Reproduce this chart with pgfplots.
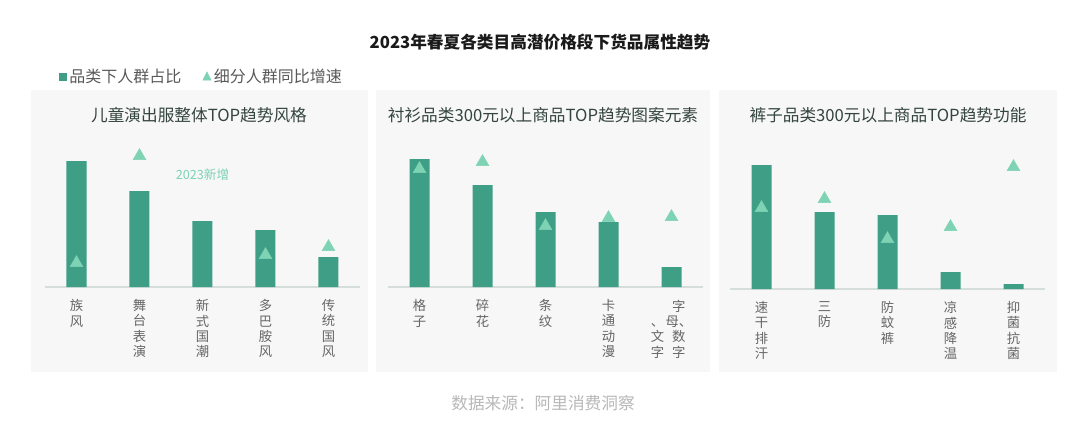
\documentclass[border=0pt]{standalone}
\usepackage{fontspec}
\setmainfont{Noto Sans CJK SC}
\usepackage{pgfplots}
\pgfplotsset{compat=1.18}
\definecolor{barc}{HTML}{3F9E86}
\definecolor{tric}{HTML}{7DD3B4}
\definecolor{axc}{HTML}{D5DEDB}
\definecolor{panelbg}{HTML}{F7F7F7}
\definecolor{titlec}{HTML}{1A1A1A}
\definecolor{ptitlec}{HTML}{34443F}
\definecolor{tickc}{HTML}{666666}
\definecolor{srcc}{HTML}{B8B8B8}
\definecolor{legc}{HTML}{595959}
\newcommand{\zmlabel}{\setlength{\tabcolsep}{0pt}\begin{tabular}[t]{@{}c@{\hspace{1pt}}c@{}} & 字\\ 、& 母、\\ 文& 数\\ 字& 字\end{tabular}}
\pgfplotsset{panel/.style={scale only axis, width=236.25pt, height=105pt,
  xmin=-0.5, xmax=4.5, ymin=0, ymax=140,
  axis y line=none, axis x line=bottom,
  x axis line style={draw=axc, line width=0.9pt, -},
  xtick={0,1,2,3,4}, major tick length=0pt,
  xticklabel style={anchor=north, align=center, font=\fontsize{10}{11.3}\selectfont, text=tickc, yshift=-6pt},
  clip=false}}
\begin{document}
\begin{tikzpicture}
\begin{scope}[x=0.75pt,y=-0.75pt]
\useasboundingbox (0,0) rectangle (1080,440);
\fill[white] (0,0) rectangle (1080,440);
\fill[panelbg] (31,90) rectangle (368,372);
\fill[panelbg] (376,90) rectangle (710,372);
\fill[panelbg] (719,90) rectangle (1057,372);
\node[font=\bfseries\fontsize{12.5}{15}\selectfont, text=titlec] at (540,42) {2023年春夏各类目高潜价格段下货品属性趋势};
\node[font=\fontsize{12.5}{15}\selectfont, text=ptitlec] at (199,115) {儿童演出服整体TOP趋势风格};
\node[font=\fontsize{12.5}{15}\selectfont, text=ptitlec] at (543,115) {衬衫品类300元以上商品TOP趋势图案元素};
\node[font=\fontsize{12.5}{15}\selectfont, text=ptitlec] at (888,115) {裤子品类300元以上商品TOP趋势功能};
\node[font=\fontsize{12.5}{15}\selectfont, text=srcc] at (543,403) {数据来源：阿里消费洞察};
\end{scope}

\begin{axis}[panel, at={(33.75pt,-215.25pt)}, anchor=south west,
  xticklabels={{族\\风},{舞\\台\\表\\演},{新\\式\\国\\潮},{多\\巴\\胺\\风},{传\\统\\国\\风}},
  legend style={at={(axis description cs:0.03,1.5)}, anchor=west, draw=none, fill=none,
    legend columns=2, font=\fontsize{12}{14}\selectfont, text=legc,
    /tikz/every even column/.append style={column sep=14pt}},
  legend cell align=left]
\addplot[ybar, bar width=15pt, fill=barc, draw=none,
  legend image code/.code={\fill[barc] (0pt,-3pt) rectangle (6pt,3pt);}]
  coordinates {(0,126) (1,96) (2,66) (3,57) (4,30)};
\addlegendentry{品类下人群占比}
\addplot[only marks, mark=triangle*, mark size=5.5pt, color=tric,
  legend image code/.code={\node[inner sep=0pt] at (3pt,0pt) {\tikz\fill[tric] (0,0) -- (6pt,0) -- (3pt,6pt) -- cycle;};}]
  coordinates {(0,24) (1,131) (3,32) (4,40)};
\addlegendentry{细分人群同比增速}
\node[font=\fontsize{9.5}{11}\selectfont, text=tric] at (axis cs:2,112) {2023新增};
\end{axis}

\begin{axis}[panel, at={(291pt,-215.25pt)}, anchor=south west,
  xticklabels={{格\\子},{碎\\花},{条\\纹},{卡\\通\\动\\漫},{\zmlabel}}]
\addplot[ybar, bar width=15pt, fill=barc, draw=none]
  coordinates {(0,128) (1,102) (2,75) (3,65) (4,20)};
\addplot[only marks, mark=triangle*, mark size=5.5pt, color=tric]
  coordinates {(0,118) (1,125) (2,61) (3,69) (4,70)};
\end{axis}

\begin{axis}[panel, at={(547.5pt,-216.75pt)}, anchor=south west,
  xticklabels={{速\\干\\排\\汗},{三\\防},{防\\蚊\\裤},{凉\\感\\降\\温},{抑\\菌\\抗\\菌}}]
\addplot[ybar, bar width=15pt, fill=barc, draw=none]
  coordinates {(0,124) (1,77) (2,74) (3,17) (4,5)};
\addplot[only marks, mark=triangle*, mark size=5.5pt, color=tric]
  coordinates {(0,81) (1,90) (2,50) (3,62) (4,122)};
\end{axis}
\end{tikzpicture}
\end{document}
